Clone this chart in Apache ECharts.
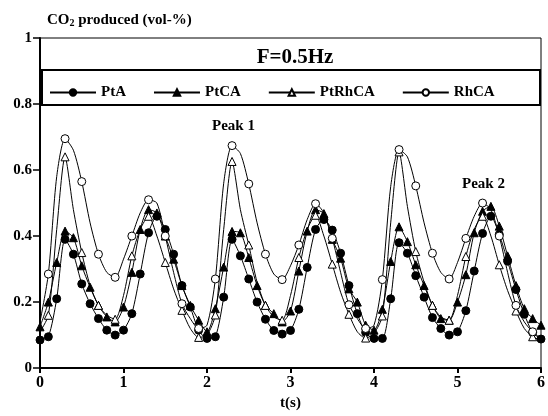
<!DOCTYPE html>
<html>
<head>
<meta charset="utf-8">
<script src="https://cdn.jsdelivr.net/npm/echarts@6/dist/echarts.min.js"></script>
<style>
  html, body { margin: 0; padding: 0; background: #fff; }
  #chart { width: 548px; height: 416px; }
</style>
</head>
<body>
<div id="chart"></div>
<script>
// time (s), one sample every 0.1 s
var times = [
  0.0, 0.1, 0.2, 0.3, 0.4, 0.5, 0.6, 0.7, 0.8, 0.9,
  1.0, 1.1, 1.2, 1.3, 1.4, 1.5, 1.6, 1.7, 1.8, 1.9,
  2.0, 2.1, 2.2, 2.3, 2.4, 2.5, 2.6, 2.7, 2.8, 2.9,
  3.0, 3.1, 3.2, 3.3, 3.4, 3.5, 3.6, 3.7, 3.8, 3.9,
  4.0, 4.1, 4.2, 4.3, 4.4, 4.5, 4.6, 4.7, 4.8, 4.9,
  5.0, 5.1, 5.2, 5.3, 5.4, 5.5, 5.6, 5.7, 5.8, 5.9,
  6.0
]

var ptA = [
  0.085, 0.095, 0.21, 0.39, 0.345, 0.255, 0.195, 0.15, 0.115, 0.10,
  0.115, 0.165, 0.285, 0.41, 0.46, 0.42, 0.345, 0.25, 0.185, 0.115,
  0.09, 0.095, 0.215, 0.39, 0.34, 0.27, 0.20, 0.148, 0.114, 0.103,
  0.114, 0.178, 0.305, 0.42, 0.45, 0.418, 0.348, 0.25, 0.165, 0.108,
  0.09, 0.09, 0.21, 0.38, 0.348, 0.28, 0.215, 0.153, 0.12, 0.10,
  0.11, 0.174, 0.294, 0.408, 0.46, 0.405, 0.324, 0.238, 0.163, 0.108,
  0.088
]

var ptCA = [
  0.125, 0.20, 0.32, 0.415, 0.395, 0.31, 0.245, 0.19, 0.155, 0.14,
  0.185, 0.29, 0.42, 0.48, 0.47, 0.40, 0.33, 0.25, 0.19, 0.145,
  0.11, 0.18, 0.306, 0.414, 0.41, 0.335, 0.25, 0.19, 0.165, 0.14,
  0.173, 0.294, 0.415, 0.48, 0.468, 0.39, 0.333, 0.24, 0.20, 0.13,
  0.115, 0.178, 0.323, 0.428, 0.383, 0.313, 0.25, 0.19, 0.15, 0.145,
  0.20, 0.283, 0.41, 0.475, 0.49, 0.43, 0.34, 0.25, 0.18, 0.15,
  0.13
]

var ptRhCA = [
  0.11, 0.16, 0.42, 0.64, 0.48, 0.35, 0.25, 0.19, 0.16, 0.148,
  0.22, 0.34, 0.42, 0.46, 0.40, 0.32, 0.24, 0.175, 0.12, 0.093,
  0.10, 0.161, 0.42, 0.626, 0.48, 0.373, 0.26, 0.19, 0.155, 0.145,
  0.22, 0.335, 0.42, 0.463, 0.40, 0.315, 0.23, 0.163, 0.11, 0.091,
  0.105, 0.158, 0.44, 0.655, 0.49, 0.353, 0.26, 0.19, 0.155, 0.145,
  0.22, 0.338, 0.42, 0.46, 0.40, 0.313, 0.235, 0.173, 0.12, 0.095,
  0.085
]

var rhCA = [
  0.14, 0.285, 0.58, 0.695, 0.66, 0.565, 0.44, 0.345, 0.29, 0.275,
  0.33, 0.40, 0.47, 0.51, 0.50, 0.40, 0.29, 0.195, 0.15, 0.12,
  0.13, 0.27, 0.56, 0.674, 0.65, 0.558, 0.44, 0.345, 0.285, 0.268,
  0.31, 0.373, 0.45, 0.498, 0.47, 0.393, 0.29, 0.192, 0.15, 0.12,
  0.13, 0.268, 0.55, 0.662, 0.64, 0.552, 0.44, 0.348, 0.29, 0.27,
  0.32, 0.393, 0.46, 0.50, 0.48, 0.40, 0.29, 0.19, 0.14, 0.11,
  0.09
]

var seriesNames = ['PtA', 'PtCA', 'PtRhCA', 'RhCA']

var font = 'Liberation Serif'

// pair times with values; open-marker series only mark every other sample
function pairs (vals, everyOther) {
  return vals.map(function (v, i) {
    var item = { value: [times[i], v] }
    if (everyOther && i % 2 === 0) item.symbol = 'none'
    return item
  })
}

function makeLine (name, vals, symbol, filled, everyOther) {
  return {
    name: name,
    type: 'line',
    smooth: 0.25,
    symbol: symbol,
    symbolSize: 8,
    showAllSymbol: true,
    data: pairs(vals, everyOther),
    lineStyle: { color: '#000', width: 1 },
    itemStyle: { color: filled ? '#000' : '#fff', borderColor: '#000', borderWidth: 1 }
  }
}

var myChart = echarts.init(document.getElementById('chart'))

var option = {
  backgroundColor: '#fff',
  animation: false,
  title: [{
    text: 'CO{sub|2} produced (vol-%)',
    left: 42,
    top: 7,
    textStyle: {
      fontFamily: font,
      fontWeight: 'bold',
      fontSize: 15,
      color: '#000',
      rich: {
        sub: { fontFamily: font, fontWeight: 'bold', fontSize: 10, verticalAlign: 'bottom', padding: [6, 0, 0, 0] }
      }
    }
  }, {
    text: 'F=0.5Hz',
    left: 290,
    textAlign: 'center',
    top: 42,
    textStyle: { fontFamily: font, fontWeight: 'bold', fontSize: 21, color: '#000' }
  }],
  legend: {
    data: seriesNames,
    left: 44,
    top: 80,
    itemWidth: 46,
    itemHeight: 8,
    itemGap: 27,
    textStyle: { fontFamily: font, fontWeight: 'bold', fontSize: 15, color: '#000' }
  },
  graphic: [{
    type: 'rect',
    shape: { x: 42, y: 70, width: 498, height: 35 },
    style: { fill: 'none', stroke: '#000', lineWidth: 2 },
    z: 0
  }, {
    type: 'text',
    left: 212,
    top: 119,
    style: { text: 'Peak 1', font: 'bold 15px "Liberation Serif"', fill: '#000' }
  }, {
    type: 'text',
    left: 462,
    top: 177,
    style: { text: 'Peak 2', font: 'bold 15px "Liberation Serif"', fill: '#000' }
  }],
  grid: {
    left: 40,
    right: 7,
    top: 38,
    bottom: 45,
    show: true,
    borderColor: '#000',
    borderWidth: 1
  },
  xAxis: {
    type: 'value',
    min: 0,
    max: 6,
    interval: 1,
    name: 't(s)',
    nameLocation: 'middle',
    nameGap: 26,
    nameTextStyle: { fontFamily: font, fontWeight: 'bold', fontSize: 15, color: '#000' },
    axisLine: { lineStyle: { color: '#000', width: 2 } },
    axisTick: { length: 5, lineStyle: { color: '#000', width: 2 } },
    axisLabel: { fontFamily: font, fontWeight: 'bold', fontSize: 16, color: '#000', margin: 7 },
    splitLine: { show: false }
  },
  yAxis: {
    type: 'value',
    min: 0,
    max: 1,
    interval: 0.2,
    axisLine: { show: true, lineStyle: { color: '#000', width: 2 } },
    axisTick: { show: true, length: 7, lineStyle: { color: '#000', width: 1.5 } },
    axisLabel: { fontFamily: font, fontWeight: 'bold', fontSize: 15, color: '#000', margin: 8 },
    splitLine: { show: false }
  },
  series: [
    makeLine('PtA', ptA, 'circle', true, false),
    makeLine('PtCA', ptCA, 'triangle', true, false),
    makeLine('PtRhCA', ptRhCA, 'triangle', false, true),
    makeLine('RhCA', rhCA, 'circle', false, true)
  ]
}

myChart.setOption(option, true)
</script>
</body>
</html>
